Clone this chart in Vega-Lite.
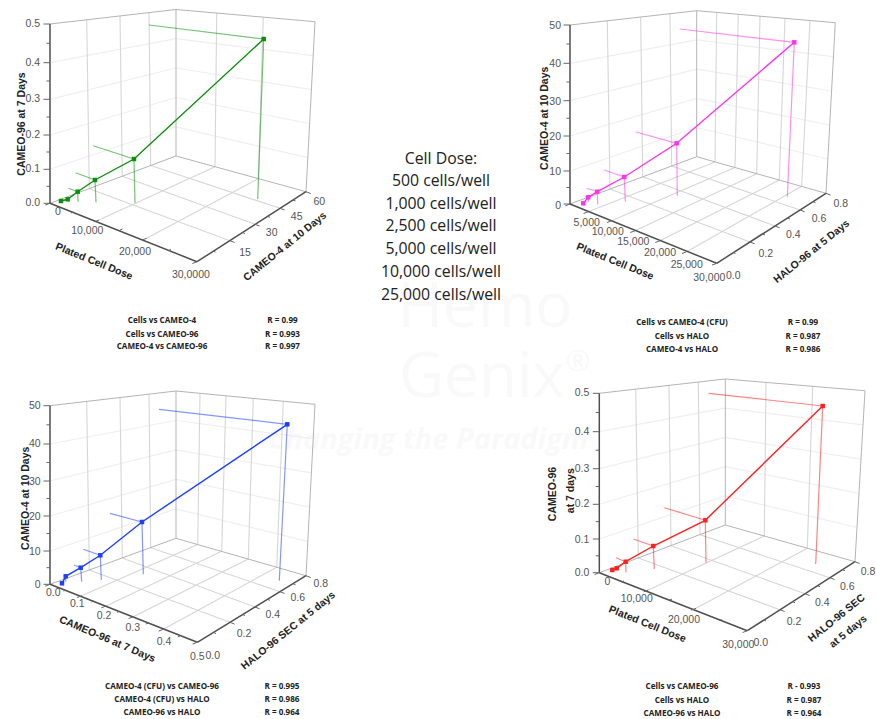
{
"$schema":"https://vega.github.io/schema/vega-lite/v6.json",
"width":876,"height":719,"autosize":{"type":"fit","contains":"padding"},"padding":0,
"background":"white","view":{"stroke":null},
"datasets":{
"seg":[
{"role":"faint","x":50,"y":169.3,"x2":176,"y2":126.8},{"role":"faint","x":50,"y":135,"x2":176,"y2":97.5},{"role":"faint","x":50,"y":99.3,"x2":176,"y2":68},{"role":"faint","x":50,"y":62.7,"x2":176,"y2":38.7},
{"role":"faint","x":176,"y":126.8,"x2":308,"y2":157.7},{"role":"faint","x":176,"y":97.5,"x2":310,"y2":123.7},{"role":"faint","x":176,"y":68,"x2":311.7,"y2":89.7},{"role":"faint","x":176,"y":38.7,"x2":313.3,"y2":55.7},
{"role":"grid","x":86.7,"y":19,"x2":89.3,"y2":188.7},{"role":"grid","x":120,"y":15.7,"x2":122.3,"y2":176.2},{"role":"grid","x":149,"y":12.3,"x2":150.7,"y2":165.5},{"role":"grid","x":216.7,"y":13,"x2":215,"y2":166.7},{"role":"grid","x":263.3,"y":17,"x2":258.3,"y2":178.7},
{"role":"grid","x":99,"y":220,"x2":215,"y2":166.7},{"role":"grid","x":146.7,"y":238.3,"x2":258.3,"y2":178.7},{"role":"grid","x":89.3,"y":188.7,"x2":230,"y2":240.7},{"role":"grid","x":122.3,"y":176.2,"x2":255,"y2":224.3},{"role":"grid","x":150.7,"y":165.5,"x2":280,"y2":208.3},
{"role":"frame","x":50,"y":24,"x2":176,"y2":9.5},{"role":"frame","x":176,"y":9.5,"x2":315,"y2":21.7},{"role":"frame","x":176,"y":9.5,"x2":176,"y2":156},{"role":"frame","x":315,"y":21.7,"x2":306,"y2":191.7},{"role":"frame","x":50,"y":203.3,"x2":176,"y2":156},{"role":"frame","x":176,"y":156,"x2":306,"y2":191.7},
{"role":"axis","x":50,"y":203.3,"x2":50,"y2":24},{"role":"axis","x":50,"y":203.3,"x2":197,"y2":261.7},{"role":"axis","x":197,"y":261.7,"x2":306,"y2":191.7},
{"role":"tick","x":50,"y":203.3,"x2":43.5,"y2":203.3},{"role":"tick","x":50,"y":169.3,"x2":43.5,"y2":169.3},{"role":"tick","x":50,"y":135,"x2":43.5,"y2":135},{"role":"tick","x":50,"y":99.3,"x2":43.5,"y2":99.3},{"role":"tick","x":50,"y":62.7,"x2":43.5,"y2":62.7},{"role":"tick","x":50,"y":24,"x2":43.5,"y2":24},
{"role":"tick","x":50,"y":186.3,"x2":46.5,"y2":186.3},{"role":"tick","x":50,"y":152,"x2":46.5,"y2":152},{"role":"tick","x":50,"y":117,"x2":46.5,"y2":117},{"role":"tick","x":50,"y":81,"x2":46.5,"y2":81},{"role":"tick","x":50,"y":43.3,"x2":46.5,"y2":43.3},
{"role":"tick","x":50,"y":203.3,"x2":45.3,"y2":205},{"role":"tick","x":99,"y":220,"x2":94.3,"y2":221.8},{"role":"tick","x":146.7,"y":238.3,"x2":142,"y2":240},{"role":"tick","x":197,"y":261.7,"x2":192.3,"y2":263.5},{"role":"tick","x":73.5,"y":212,"x2":71,"y2":213},{"role":"tick","x":122.5,"y":229,"x2":120,"y2":230},{"role":"tick","x":171,"y":249.5,"x2":168.5,"y2":250.5},
{"role":"tick","x":230,"y":240.7,"x2":234.6,"y2":242.5},{"role":"tick","x":255,"y":224.3,"x2":259.6,"y2":226},{"role":"tick","x":280,"y":208.3,"x2":284.6,"y2":210},{"role":"tick","x":306,"y":191.7,"x2":310.6,"y2":193.5},{"role":"tick","x":213,"y":251,"x2":215.5,"y2":252},{"role":"tick","x":242.5,"y":232.5,"x2":245,"y2":233.5},{"role":"tick","x":267.5,"y":216.3,"x2":270,"y2":217.3},{"role":"tick","x":293,"y":200,"x2":295.5,"y2":201},
{"role":"drop","panel":"P1","x":77.7,"y":191.7,"x2":78,"y2":201.7},{"role":"drop","panel":"P1","x":95,"y":180,"x2":96,"y2":202.3},{"role":"drop","panel":"P1","x":134,"y":159,"x2":135,"y2":202.7},{"role":"drop","panel":"P1","x":263.7,"y":39,"x2":257.7,"y2":199.3},
{"role":"drop","panel":"P1","x":77.7,"y":191.7,"x2":68.3,"y2":188.3},{"role":"drop","panel":"P1","x":95,"y":180,"x2":75.7,"y2":172.7},{"role":"drop","panel":"P1","x":134,"y":159,"x2":93.3,"y2":145.7},{"role":"drop","panel":"P1","x":263.7,"y":39,"x2":149,"y2":25},

{"role":"faint","x":570,"y":171,"x2":696.7,"y2":127.5},{"role":"faint","x":570,"y":136,"x2":696.7,"y2":98.3},{"role":"faint","x":570,"y":100.7,"x2":696.7,"y2":69.1},{"role":"faint","x":570,"y":63.3,"x2":696.7,"y2":39.9},
{"role":"faint","x":696.7,"y":127.5,"x2":828,"y2":159},{"role":"faint","x":696.7,"y":98.3,"x2":829.7,"y2":125},{"role":"faint","x":696.7,"y":69.1,"x2":831.7,"y2":91},{"role":"faint","x":696.7,"y":39.9,"x2":833.3,"y2":56.7},
{"role":"grid","x":607.3,"y":20.7,"x2":610,"y2":189},{"role":"grid","x":640.7,"y":17,"x2":642.7,"y2":176.8},{"role":"grid","x":670,"y":13.7,"x2":671.7,"y2":166},
{"role":"grid","x":716.7,"y":12.3,"x2":715,"y2":161.9},{"role":"grid","x":738.3,"y":14.3,"x2":735,"y2":167.5},{"role":"grid","x":760,"y":16,"x2":756.7,"y2":173.7},{"role":"grid","x":785,"y":18.3,"x2":779.3,"y2":180},{"role":"grid","x":810,"y":20.3,"x2":801.7,"y2":186.3},
{"role":"grid","x":588.3,"y":211.7,"x2":715,"y2":161.9},{"role":"grid","x":611.7,"y":220.7,"x2":735,"y2":167.5},{"role":"grid","x":635,"y":230.7,"x2":756.7,"y2":173.7},{"role":"grid","x":660,"y":240.7,"x2":779.3,"y2":180},{"role":"grid","x":686.7,"y":251.7,"x2":801.7,"y2":186.3},
{"role":"grid","x":610,"y":189,"x2":750,"y2":242},{"role":"grid","x":642.7,"y":176.8,"x2":775,"y2":226},{"role":"grid","x":671.7,"y":166,"x2":800,"y2":210},
{"role":"frame","x":570,"y":25,"x2":696.7,"y2":10.7},{"role":"frame","x":696.7,"y":10.7,"x2":835.3,"y2":22.7},{"role":"frame","x":696.7,"y":10.7,"x2":696.7,"y2":156.7},{"role":"frame","x":835.3,"y":22.7,"x2":826,"y2":193.3},{"role":"frame","x":570,"y":204,"x2":696.7,"y2":156.7},{"role":"frame","x":696.7,"y":156.7,"x2":826,"y2":193.3},
{"role":"axis","x":570,"y":204,"x2":570,"y2":25},{"role":"axis","x":570,"y":204,"x2":716.7,"y2":263.3},{"role":"axis","x":716.7,"y":263.3,"x2":826,"y2":193.3},
{"role":"tick","x":570,"y":204,"x2":563.5,"y2":204},{"role":"tick","x":570,"y":171,"x2":563.5,"y2":171},{"role":"tick","x":570,"y":136,"x2":563.5,"y2":136},{"role":"tick","x":570,"y":100.7,"x2":563.5,"y2":100.7},{"role":"tick","x":570,"y":63.3,"x2":563.5,"y2":63.3},{"role":"tick","x":570,"y":25,"x2":563.5,"y2":25},
{"role":"tick","x":570,"y":187.5,"x2":566.5,"y2":187.5},{"role":"tick","x":570,"y":153.5,"x2":566.5,"y2":153.5},{"role":"tick","x":570,"y":118.3,"x2":566.5,"y2":118.3},{"role":"tick","x":570,"y":82,"x2":566.5,"y2":82},{"role":"tick","x":570,"y":44,"x2":566.5,"y2":44},
{"role":"tick","x":570,"y":204,"x2":565.3,"y2":205.8},{"role":"tick","x":588.3,"y":211.7,"x2":583.6,"y2":213.5},{"role":"tick","x":611.7,"y":220.7,"x2":607,"y2":222.5},{"role":"tick","x":635,"y":230.7,"x2":630.3,"y2":232.5},{"role":"tick","x":660,"y":240.7,"x2":655.3,"y2":242.5},{"role":"tick","x":686.7,"y":251.7,"x2":682,"y2":253.5},{"role":"tick","x":716.7,"y":263.3,"x2":712,"y2":265.1},
{"role":"tick","x":750,"y":242,"x2":754.6,"y2":243.8},{"role":"tick","x":775,"y":226,"x2":779.6,"y2":227.8},{"role":"tick","x":800,"y":210,"x2":804.6,"y2":211.8},{"role":"tick","x":826,"y":193.3,"x2":830.6,"y2":195.1},{"role":"tick","x":733,"y":252.5,"x2":735.5,"y2":253.5},{"role":"tick","x":762.5,"y":234,"x2":765,"y2":235},{"role":"tick","x":787.5,"y":218,"x2":790,"y2":219},{"role":"tick","x":813,"y":201.7,"x2":815.5,"y2":202.7},
{"role":"drop","panel":"P2","x":588.3,"y":197.3,"x2":588.3,"y2":202},{"role":"drop","panel":"P2","x":597.3,"y":191.7,"x2":597.7,"y2":204.3},{"role":"drop","panel":"P2","x":624.3,"y":177,"x2":625.3,"y2":201.7},{"role":"drop","panel":"P2","x":676.7,"y":143.3,"x2":677.3,"y2":195.7},{"role":"drop","panel":"P2","x":794.3,"y":42.3,"x2":787.3,"y2":196.7},
{"role":"drop","panel":"P2","x":588.3,"y":197.3,"x2":585,"y2":196.7},{"role":"drop","panel":"P2","x":597.3,"y":191.7,"x2":586.7,"y2":188.3},{"role":"drop","panel":"P2","x":624.3,"y":177,"x2":604.3,"y2":170},{"role":"drop","panel":"P2","x":676.7,"y":143.3,"x2":636,"y2":132},{"role":"drop","panel":"P2","x":794.3,"y":42.3,"x2":680,"y2":29},

{"role":"faint","x":50,"y":551,"x2":176,"y2":508.9},{"role":"faint","x":50,"y":516,"x2":176,"y2":479.4},{"role":"faint","x":50,"y":481,"x2":176,"y2":449.9},{"role":"faint","x":50,"y":444,"x2":176,"y2":420.5},
{"role":"faint","x":176,"y":508.9,"x2":307.8,"y2":541.4},{"role":"faint","x":176,"y":479.4,"x2":309.6,"y2":507.1},{"role":"faint","x":176,"y":449.9,"x2":311.4,"y2":472.9},{"role":"faint","x":176,"y":420.5,"x2":313.2,"y2":438.6},
{"role":"grid","x":86.7,"y":401.3,"x2":89.3,"y2":570},{"role":"grid","x":120,"y":397.5,"x2":122.3,"y2":558},{"role":"grid","x":149,"y":394.1,"x2":150.7,"y2":547.7},
{"role":"grid","x":200,"y":393.3,"x2":197.7,"y2":544.6},{"role":"grid","x":226,"y":395.7,"x2":221.7,"y2":551.3},{"role":"grid","x":253.3,"y":398.3,"x2":248.3,"y2":559},{"role":"grid","x":283.3,"y":401.3,"x2":276.7,"y2":567.3},
{"role":"grid","x":81.7,"y":595.7,"x2":197.7,"y2":544.6},{"role":"grid","x":106,"y":606,"x2":221.7,"y2":551.3},{"role":"grid","x":133.3,"y":616.7,"x2":248.3,"y2":559},{"role":"grid","x":163.3,"y":629.3,"x2":276.7,"y2":567.3},
{"role":"grid","x":89.3,"y":570,"x2":230,"y2":622.3},{"role":"grid","x":122.3,"y":558,"x2":255,"y2":607},{"role":"grid","x":150.7,"y":547.7,"x2":280,"y2":591.7},
{"role":"frame","x":50,"y":405.7,"x2":176,"y2":391},{"role":"frame","x":176,"y":391,"x2":315,"y2":404.3},{"role":"frame","x":176,"y":391,"x2":176,"y2":538.3},{"role":"frame","x":315,"y":404.3,"x2":306,"y2":575.7},{"role":"frame","x":50,"y":584.3,"x2":176,"y2":538.3},{"role":"frame","x":176,"y":538.3,"x2":306,"y2":575.7},
{"role":"axis","x":50,"y":584.3,"x2":50,"y2":405.7},{"role":"axis","x":50,"y":584.3,"x2":197.3,"y2":642.3},{"role":"axis","x":197.3,"y":642.3,"x2":306,"y2":575.7},
{"role":"tick","x":50,"y":584.3,"x2":43.5,"y2":584.3},{"role":"tick","x":50,"y":551,"x2":43.5,"y2":551},{"role":"tick","x":50,"y":516,"x2":43.5,"y2":516},{"role":"tick","x":50,"y":481,"x2":43.5,"y2":481},{"role":"tick","x":50,"y":444,"x2":43.5,"y2":444},{"role":"tick","x":50,"y":405.7,"x2":43.5,"y2":405.7},
{"role":"tick","x":50,"y":567.7,"x2":46.5,"y2":567.7},{"role":"tick","x":50,"y":533.5,"x2":46.5,"y2":533.5},{"role":"tick","x":50,"y":498.5,"x2":46.5,"y2":498.5},{"role":"tick","x":50,"y":462.5,"x2":46.5,"y2":462.5},{"role":"tick","x":50,"y":424.8,"x2":46.5,"y2":424.8},
{"role":"tick","x":50,"y":584.3,"x2":45.3,"y2":586.1},{"role":"tick","x":81.7,"y":595.7,"x2":77,"y2":597.5},{"role":"tick","x":106,"y":606,"x2":101.3,"y2":607.8},{"role":"tick","x":133.3,"y":616.7,"x2":128.6,"y2":618.5},{"role":"tick","x":163.3,"y":629.3,"x2":158.6,"y2":631.1},{"role":"tick","x":197.3,"y":642.3,"x2":192.6,"y2":644.1},
{"role":"tick","x":66,"y":590,"x2":63.5,"y2":591},{"role":"tick","x":94,"y":601,"x2":91.5,"y2":602},{"role":"tick","x":119.5,"y":611.3,"x2":117,"y2":612.3},{"role":"tick","x":148.3,"y":623,"x2":145.8,"y2":624},{"role":"tick","x":180.3,"y":635.8,"x2":177.8,"y2":636.8},
{"role":"tick","x":230,"y":622.3,"x2":234.6,"y2":624.1},{"role":"tick","x":255,"y":607,"x2":259.6,"y2":608.8},{"role":"tick","x":280,"y":591.7,"x2":284.6,"y2":593.5},{"role":"tick","x":306,"y":575.7,"x2":310.6,"y2":577.5},{"role":"tick","x":213.5,"y":632.5,"x2":216,"y2":633.5},{"role":"tick","x":242.5,"y":614.5,"x2":245,"y2":615.5},{"role":"tick","x":267.5,"y":599.3,"x2":270,"y2":600.3},{"role":"tick","x":293,"y":583.7,"x2":295.5,"y2":584.7},
{"role":"drop","panel":"P3","x":65.7,"y":576.3,"x2":65.7,"y2":581.7},{"role":"drop","panel":"P3","x":80.7,"y":567.7,"x2":81.7,"y2":581.7},{"role":"drop","panel":"P3","x":100.3,"y":555.3,"x2":101.3,"y2":580},{"role":"drop","panel":"P3","x":142,"y":522,"x2":143.3,"y2":574.3},{"role":"drop","panel":"P3","x":287.3,"y":424.3,"x2":279.3,"y2":580.7},
{"role":"drop","panel":"P3","x":80.7,"y":567.7,"x2":74,"y2":565},{"role":"drop","panel":"P3","x":100.3,"y":555.3,"x2":83.3,"y2":549.3},{"role":"drop","panel":"P3","x":142,"y":522,"x2":110,"y2":513.3},{"role":"drop","panel":"P3","x":287.3,"y":424.3,"x2":159,"y2":409.3},

{"role":"faint","x":599.3,"y":539,"x2":725.3,"y2":495.8},{"role":"faint","x":599.3,"y":504.3,"x2":725.3,"y2":466.6},{"role":"faint","x":599.3,"y":468.7,"x2":725.3,"y2":437.4},{"role":"faint","x":599.3,"y":431.7,"x2":725.3,"y2":408.2},
{"role":"faint","x":725.3,"y":495.8,"x2":857,"y2":527.5},{"role":"faint","x":725.3,"y":466.6,"x2":859,"y2":493.3},{"role":"faint","x":725.3,"y":437.4,"x2":861,"y2":459.1},{"role":"faint","x":725.3,"y":408.2,"x2":863,"y2":424.9},
{"role":"grid","x":635.7,"y":389.2,"x2":638.3,"y2":558},{"role":"grid","x":669,"y":385.4,"x2":671,"y2":545.7},{"role":"grid","x":698.3,"y":382.1,"x2":700,"y2":534.7},{"role":"grid","x":766,"y":382.4,"x2":764.3,"y2":536},{"role":"grid","x":812.7,"y":386.3,"x2":807.3,"y2":548.2},
{"role":"grid","x":648.3,"y":590,"x2":764.3,"y2":536},{"role":"grid","x":696,"y":608.3,"x2":807.3,"y2":548.2},{"role":"grid","x":638.3,"y":558,"x2":780,"y2":609.7},{"role":"grid","x":671,"y":545.7,"x2":805,"y2":593.7},{"role":"grid","x":700,"y":534.7,"x2":830,"y2":577.7},
{"role":"frame","x":599.3,"y":393.3,"x2":725.3,"y2":379},{"role":"frame","x":725.3,"y":379,"x2":865,"y2":390.7},{"role":"frame","x":725.3,"y":379,"x2":725.3,"y2":525},{"role":"frame","x":865,"y":390.7,"x2":855,"y2":561.7},{"role":"frame","x":599.3,"y":572.7,"x2":725.3,"y2":525},{"role":"frame","x":725.3,"y":525,"x2":855,"y2":561.7},
{"role":"axis","x":599.3,"y":572.7,"x2":599.3,"y2":393.3},{"role":"axis","x":599.3,"y":572.7,"x2":747.3,"y2":630.7},{"role":"axis","x":747.3,"y":630.7,"x2":855,"y2":561.7},
{"role":"tick","x":599.3,"y":572.7,"x2":592.8,"y2":572.7},{"role":"tick","x":599.3,"y":539,"x2":592.8,"y2":539},{"role":"tick","x":599.3,"y":504.3,"x2":592.8,"y2":504.3},{"role":"tick","x":599.3,"y":468.7,"x2":592.8,"y2":468.7},{"role":"tick","x":599.3,"y":431.7,"x2":592.8,"y2":431.7},{"role":"tick","x":599.3,"y":393.3,"x2":592.8,"y2":393.3},
{"role":"tick","x":599.3,"y":555.8,"x2":595.8,"y2":555.8},{"role":"tick","x":599.3,"y":521.6,"x2":595.8,"y2":521.6},{"role":"tick","x":599.3,"y":486.5,"x2":595.8,"y2":486.5},{"role":"tick","x":599.3,"y":450.2,"x2":595.8,"y2":450.2},{"role":"tick","x":599.3,"y":412.5,"x2":595.8,"y2":412.5},
{"role":"tick","x":599.3,"y":572.7,"x2":594.6,"y2":574.5},{"role":"tick","x":648.3,"y":590,"x2":643.6,"y2":591.8},{"role":"tick","x":696,"y":608.3,"x2":691.3,"y2":610.1},{"role":"tick","x":747.3,"y":630.7,"x2":742.6,"y2":632.5},{"role":"tick","x":624,"y":581,"x2":621.5,"y2":582},{"role":"tick","x":672,"y":599,"x2":669.5,"y2":600},{"role":"tick","x":721.5,"y":619.5,"x2":719,"y2":620.5},
{"role":"tick","x":780,"y":609.7,"x2":784.6,"y2":611.5},{"role":"tick","x":805,"y":593.7,"x2":809.6,"y2":595.5},{"role":"tick","x":830,"y":577.7,"x2":834.6,"y2":579.5},{"role":"tick","x":855,"y":561.7,"x2":859.6,"y2":563.5},{"role":"tick","x":763.5,"y":620,"x2":766,"y2":621},{"role":"tick","x":792.5,"y":601.7,"x2":795,"y2":602.7},{"role":"tick","x":817.5,"y":585.7,"x2":820,"y2":586.7},{"role":"tick","x":842.5,"y":569.7,"x2":845,"y2":570.7},
{"role":"drop","panel":"P4","x":625.7,"y":561.7,"x2":626,"y2":572.3},{"role":"drop","panel":"P4","x":653.3,"y":546,"x2":654.3,"y2":569},{"role":"drop","panel":"P4","x":705.3,"y":520.3,"x2":706,"y2":562.7},{"role":"drop","panel":"P4","x":822.7,"y":406,"x2":815.7,"y2":564},
{"role":"drop","panel":"P4","x":625.7,"y":561.7,"x2":616,"y2":557.7},{"role":"drop","panel":"P4","x":653.3,"y":546,"x2":633.3,"y2":539},{"role":"drop","panel":"P4","x":705.3,"y":520.3,"x2":664.3,"y2":507.7},{"role":"drop","panel":"P4","x":822.7,"y":406,"x2":708.7,"y2":393.3}
],
"pts":[
{"panel":"P1","dose":500,"x":61,"y":201},{"panel":"P1","dose":1000,"x":67.7,"y":199.3},{"panel":"P1","dose":2500,"x":77.7,"y":191.7},{"panel":"P1","dose":5000,"x":95,"y":180},{"panel":"P1","dose":10000,"x":134,"y":159},{"panel":"P1","dose":25000,"x":263.7,"y":39},
{"panel":"P2","dose":500,"x":583.3,"y":203.3},{"panel":"P2","dose":1000,"x":588.3,"y":197.3},{"panel":"P2","dose":2500,"x":597.3,"y":191.7},{"panel":"P2","dose":5000,"x":624.3,"y":177},{"panel":"P2","dose":10000,"x":676.7,"y":143.3},{"panel":"P2","dose":25000,"x":794.3,"y":42.3},
{"panel":"P3","dose":500,"x":62,"y":583.3},{"panel":"P3","dose":1000,"x":65.7,"y":576.3},{"panel":"P3","dose":2500,"x":80.7,"y":567.7},{"panel":"P3","dose":5000,"x":100.3,"y":555.3},{"panel":"P3","dose":10000,"x":142,"y":522},{"panel":"P3","dose":25000,"x":287.3,"y":424.3},
{"panel":"P4","dose":500,"x":612.3,"y":570},{"panel":"P4","dose":1000,"x":616.7,"y":568.3},{"panel":"P4","dose":2500,"x":625.7,"y":561.7},{"panel":"P4","dose":5000,"x":653.3,"y":546},{"panel":"P4","dose":10000,"x":705.3,"y":520.3},{"panel":"P4","dose":25000,"x":822.7,"y":406}
],
"txt":[
{"role":"mark","x":485,"y":308,"t":"Hemo"},{"role":"mark","x":482,"y":378,"t":"Genix"},{"role":"markR","x":578,"y":362,"t":"®"},
{"role":"markItalic","x":428,"y":440,"t":"Changing the Paradigm"},
{"role":"ytick","x":40,"y":24,"t":"0.5"},{"role":"ytick","x":40,"y":62.7,"t":"0.4"},{"role":"ytick","x":40,"y":99.3,"t":"0.3"},{"role":"ytick","x":40,"y":135,"t":"0.2"},{"role":"ytick","x":40,"y":169.3,"t":"0.1"},{"role":"ytick","x":40,"y":203.3,"t":"0.0"},
{"role":"tick","x":58,"y":212.3,"t":"0"},{"role":"tick","x":87.3,"y":231,"t":"10,000"},{"role":"tick","x":135,"y":251.7,"t":"20,000"},{"role":"tick","x":188,"y":275,"t":"30,000"},
{"role":"tick","x":207,"y":275,"t":"0"},{"role":"tick","x":245,"y":252.7,"t":"15"},{"role":"tick","x":271.7,"y":233.3,"t":"30"},{"role":"tick","x":296.7,"y":216.7,"t":"45"},{"role":"tick","x":319.3,"y":201.7,"t":"60"},
{"role":"titleV","x":22,"y":124,"t":"CAMEO-96 at 7 Days"},{"role":"titleX","x":94,"y":261.7,"t":"Plated Cell Dose"},{"role":"titleZ","x":285,"y":246.7,"t":"CAMEO-4 at 10 Days"},
{"role":"ytick","x":561,"y":26,"t":"50"},{"role":"ytick","x":561,"y":64,"t":"40"},{"role":"ytick","x":561,"y":101.7,"t":"30"},{"role":"ytick","x":561,"y":136.7,"t":"20"},{"role":"ytick","x":561,"y":171.7,"t":"10"},{"role":"ytick","x":561,"y":205.7,"t":"0"},
{"role":"tick","x":586.7,"y":222.7,"t":"5,000"},{"role":"tick","x":607.7,"y":232.3,"t":"10,000"},{"role":"tick","x":633.3,"y":242.3,"t":"15,000"},{"role":"tick","x":660,"y":253.3,"t":"20,000"},{"role":"tick","x":686.7,"y":265,"t":"25,000"},{"role":"tick","x":709.3,"y":277.7,"t":"30,000"},
{"role":"tick","x":733.3,"y":276,"t":"0.0"},{"role":"tick","x":765.7,"y":254,"t":"0.2"},{"role":"tick","x":793.3,"y":235,"t":"0.4"},{"role":"tick","x":819,"y":219,"t":"0.6"},{"role":"tick","x":840.7,"y":204.3,"t":"0.8"},
{"role":"titleV","x":545,"y":118.3,"t":"CAMEO-4 at 10 Days"},{"role":"titleX","x":615,"y":261.7,"t":"Plated Cell Dose"},{"role":"titleZ","x":811.7,"y":251.7,"t":"HALO-96 at 5 Days"},
{"role":"ytick","x":40.7,"y":406.3,"t":"50"},{"role":"ytick","x":40.7,"y":444.3,"t":"40"},{"role":"ytick","x":40.7,"y":481.7,"t":"30"},{"role":"ytick","x":40.7,"y":517,"t":"20"},{"role":"ytick","x":40.7,"y":552,"t":"10"},{"role":"ytick","x":40.7,"y":585,"t":"0"},
{"role":"tick","x":53.3,"y":593.3,"t":"0.0"},{"role":"tick","x":77.3,"y":604.3,"t":"0.1"},{"role":"tick","x":104,"y":615.7,"t":"0.2"},{"role":"tick","x":132.7,"y":627.7,"t":"0.3"},{"role":"tick","x":164,"y":641.7,"t":"0.4"},{"role":"tick","x":197.3,"y":656.7,"t":"0.5"},
{"role":"tick","x":212.7,"y":655.7,"t":"0.0"},{"role":"tick","x":244,"y":634,"t":"0.2"},{"role":"tick","x":272.7,"y":615,"t":"0.4"},{"role":"tick","x":297.7,"y":598.3,"t":"0.6"},{"role":"tick","x":320.7,"y":584,"t":"0.8"},
{"role":"titleV","x":26,"y":498.3,"t":"CAMEO-4 at 10 Days"},{"role":"titleX2","x":107.3,"y":639.3,"t":"CAMEO-96 at 7 Days"},{"role":"titleZ","x":288.3,"y":630.7,"t":"HALO-96 SEC at 5 days"},
{"role":"ytick","x":589.3,"y":393.3,"t":"0.5"},{"role":"ytick","x":589.3,"y":432,"t":"0.4"},{"role":"ytick","x":589.3,"y":469,"t":"0.3"},{"role":"ytick","x":589.3,"y":504.3,"t":"0.2"},{"role":"ytick","x":589.3,"y":539.7,"t":"0.1"},{"role":"ytick","x":589.3,"y":573.3,"t":"0.0"},
{"role":"tick","x":607.3,"y":581.7,"t":"0"},{"role":"tick","x":636.7,"y":599.3,"t":"10,000"},{"role":"tick","x":684,"y":620,"t":"20,000"},{"role":"tick","x":738.3,"y":645,"t":"30,000"},
{"role":"tick","x":760.7,"y":643.3,"t":"0.0"},{"role":"tick","x":794,"y":621.7,"t":"0.2"},{"role":"tick","x":822.3,"y":603.3,"t":"0.4"},{"role":"tick","x":847.3,"y":586.7,"t":"0.6"},{"role":"tick","x":868,"y":571.7,"t":"0.8"},
{"role":"titleV","x":552.7,"y":494,"t":"CAMEO-96"},{"role":"titleV","x":570.7,"y":490.7,"t":"at 7 days"},{"role":"titleX","x":647.3,"y":624.3,"t":"Plated Cell Dose"},{"role":"titleZ","x":836.7,"y":618.3,"t":"HALO-96 SEC"},{"role":"titleZ","x":848.3,"y":631.7,"t":"at 5 days"},
{"role":"center","x":441,"y":159,"t":"Cell Dose:"},{"role":"center","x":441,"y":181,"t":"500 cells/well"},{"role":"center","x":441,"y":204,"t":"1,000 cells/well"},{"role":"center","x":441,"y":226,"t":"2,500 cells/well"},{"role":"center","x":441,"y":249,"t":"5,000 cells/well"},{"role":"center","x":441,"y":272,"t":"10,000 cells/well"},{"role":"center","x":441,"y":295,"t":"25,000 cells/well"},
{"role":"note","x":162,"y":320.7,"t":"Cells vs CAMEO-4"},{"role":"note","x":162,"y":334.7,"t":"Cells vs CAMEO-96"},{"role":"note","x":162,"y":347.3,"t":"CAMEO-4 vs CAMEO-96"},
{"role":"note","x":282.5,"y":320.7,"t":"R = 0.99"},{"role":"note","x":282.5,"y":334.7,"t":"R = 0.993"},{"role":"note","x":282.5,"y":347.3,"t":"R = 0.997"},
{"role":"note","x":682,"y":323,"t":"Cells vs CAMEO-4 (CFU)"},{"role":"note","x":682,"y":337,"t":"Cells vs HALO"},{"role":"note","x":682,"y":350,"t":"CAMEO-4 vs HALO"},
{"role":"note","x":803,"y":323,"t":"R = 0.99"},{"role":"note","x":803,"y":337,"t":"R = 0.987"},{"role":"note","x":803,"y":350,"t":"R = 0.986"},
{"role":"note","x":162,"y":687,"t":"CAMEO-4 (CFU) vs CAMEO-96"},{"role":"note","x":162,"y":700,"t":"CAMEO-4 (CFU) vs HALO"},{"role":"note","x":162,"y":713,"t":"CAMEO-96 vs HALO"},
{"role":"note","x":282,"y":687,"t":"R = 0.995"},{"role":"note","x":282,"y":700,"t":"R = 0.986"},{"role":"note","x":282,"y":713,"t":"R = 0.964"},
{"role":"note","x":682,"y":687,"t":"Cells vs CAMEO-96"},{"role":"note","x":682,"y":701,"t":"Cells vs HALO"},{"role":"note","x":682,"y":714,"t":"CAMEO-96 vs HALO"},
{"role":"note","x":804,"y":687,"t":"R - 0.993"},{"role":"note","x":804,"y":701,"t":"R = 0.987"},{"role":"note","x":804,"y":714,"t":"R = 0.964"}
]},
"encoding":{
"x":{"field":"x","type":"quantitative","scale":{"domain":[0,876],"nice":false,"zero":false},"axis":null},
"y":{"field":"y","type":"quantitative","scale":{"domain":[719,0],"nice":false,"zero":false},"axis":null}
},
"layer":[
{"data":{"name":"txt"},"transform":[{"filter":"datum.role=='mark'"}],"mark":{"type":"text","font":"Open Sans","fontSize":62,"color":"#f9f9f9"},"encoding":{"text":{"field":"t"}}},
{"data":{"name":"txt"},"transform":[{"filter":"datum.role=='markR'"}],"mark":{"type":"text","font":"Open Sans","fontSize":30,"color":"#f9f9f9"},"encoding":{"text":{"field":"t"}}},
{"data":{"name":"txt"},"transform":[{"filter":"datum.role=='markItalic'"}],"mark":{"type":"text","font":"Open Sans","fontSize":29,"fontStyle":"italic","fontWeight":"bold","color":"#f9f9f9"},"encoding":{"text":{"field":"t"}}},
{"data":{"name":"seg"},"transform":[{"filter":"datum.role=='faint'"}],"mark":{"type":"rule","stroke":"#efefef","strokeWidth":1.2},"encoding":{"x2":{"field":"x2"},"y2":{"field":"y2"}}},
{"data":{"name":"seg"},"transform":[{"filter":"datum.role=='grid'"}],"mark":{"type":"rule","stroke":"#d6d6d6","strokeWidth":1.1},"encoding":{"x2":{"field":"x2"},"y2":{"field":"y2"}}},
{"data":{"name":"seg"},"transform":[{"filter":"datum.role=='frame'"}],"mark":{"type":"rule","stroke":"#b4b4b4","strokeWidth":1},"encoding":{"x2":{"field":"x2"},"y2":{"field":"y2"}}},
{"data":{"name":"seg"},"transform":[{"filter":"datum.role=='axis'"}],"mark":{"type":"rule","stroke":"#4f4f4f","strokeWidth":1.5},"encoding":{"x2":{"field":"x2"},"y2":{"field":"y2"}}},
{"data":{"name":"seg"},"transform":[{"filter":"datum.role=='tick'"}],"mark":{"type":"rule","stroke":"#666666","strokeWidth":1},"encoding":{"x2":{"field":"x2"},"y2":{"field":"y2"}}},
{"data":{"name":"seg"},"transform":[{"filter":"datum.role=='drop'"}],"mark":{"type":"rule","strokeWidth":1.2,"opacity":0.55},"encoding":{"x2":{"field":"x2"},"y2":{"field":"y2"},"color":{"field":"panel","type":"nominal","legend":null,"scale":{"domain":["P1","P2","P3","P4"],"range":["#0a8f0a","#ff33ee","#1f3fff","#ff2020"]}}}},
{"data":{"name":"pts"},"mark":{"type":"line","strokeWidth":1.4},"encoding":{"order":{"field":"dose","type":"quantitative"},"color":{"field":"panel","type":"nominal","legend":null,"scale":{"domain":["P1","P2","P3","P4"],"range":["#0a8f0a","#ff33ee","#1f3fff","#ff2020"]}}}},
{"data":{"name":"pts"},"mark":{"type":"point","shape":"square","filled":true,"opacity":1,"size":20},"encoding":{"color":{"field":"panel","type":"nominal","legend":null,"scale":{"domain":["P1","P2","P3","P4"],"range":["#0a8f0a","#ff33ee","#1f3fff","#ff2020"]}}}},
{"data":{"name":"txt"},"transform":[{"filter":"datum.role=='ytick'"}],"mark":{"type":"text","font":"Liberation Sans","fontSize":10.5,"align":"right","color":"#555555"},"encoding":{"text":{"field":"t"}}},
{"data":{"name":"txt"},"transform":[{"filter":"datum.role=='tick'"}],"mark":{"type":"text","font":"Liberation Sans","fontSize":10.5,"color":"#555555"},"encoding":{"text":{"field":"t"}}},
{"data":{"name":"txt"},"transform":[{"filter":"datum.role=='titleV'"}],"mark":{"type":"text","font":"Liberation Sans","fontSize":10.5,"fontWeight":"bold","angle":270,"color":"#222222"},"encoding":{"text":{"field":"t"}}},
{"data":{"name":"txt"},"transform":[{"filter":"datum.role=='titleX'"}],"mark":{"type":"text","font":"Liberation Sans","fontSize":10.5,"fontWeight":"bold","angle":22,"color":"#222222"},"encoding":{"text":{"field":"t"}}},
{"data":{"name":"txt"},"transform":[{"filter":"datum.role=='titleX2'"}],"mark":{"type":"text","font":"Liberation Sans","fontSize":10.5,"fontWeight":"bold","angle":23,"color":"#222222"},"encoding":{"text":{"field":"t"}}},
{"data":{"name":"txt"},"transform":[{"filter":"datum.role=='titleZ'"}],"mark":{"type":"text","font":"Liberation Sans","fontSize":10.5,"fontWeight":"bold","angle":321,"color":"#222222"},"encoding":{"text":{"field":"t"}}},
{"data":{"name":"txt"},"transform":[{"filter":"datum.role=='center'"}],"mark":{"type":"text","font":"Open Sans","fontSize":15.8,"color":"#222222"},"encoding":{"text":{"field":"t"}}},
{"data":{"name":"txt"},"transform":[{"filter":"datum.role=='note'"}],"mark":{"type":"text","font":"Open Sans","fontSize":8.1,"fontWeight":"bold","color":"#222222"},"encoding":{"text":{"field":"t"}}}
]
}
